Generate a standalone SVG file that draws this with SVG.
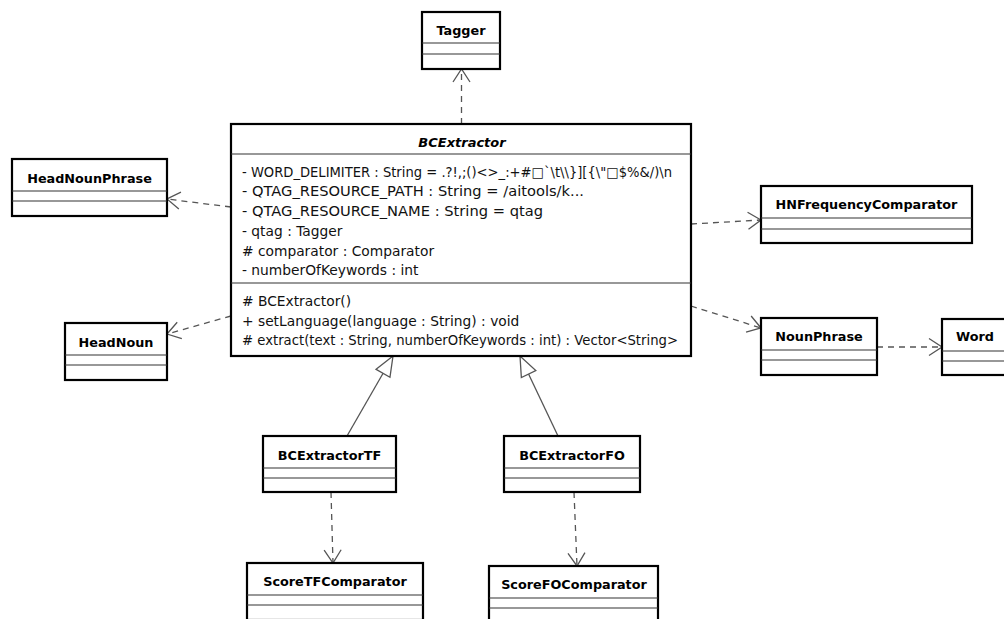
<svg xmlns="http://www.w3.org/2000/svg" width="1004" height="619" viewBox="0 0 1004 619">
  <style>
    .box { fill: #ffffff; stroke: #000000; stroke-width: 2.2; }
    .div { stroke: #333333; stroke-width: 1.2; fill: none; }
    .title { font-family: "DejaVu Sans", Verdana, sans-serif; font-weight: bold; font-size: 12.8px; fill: #000; text-anchor: middle; }
    .abstract { font-family: "DejaVu Sans", Verdana, sans-serif; font-weight: bold; font-style: italic; font-size: 13px; fill: #000; text-anchor: middle; }
    .member { font-family: "DejaVu Sans", Verdana, sans-serif; font-size: 13.8px; fill: #111; }
    .dep { fill: none; stroke: #555555; stroke-width: 1.3; stroke-dasharray: 6 5; }
    .gen { fill: none; stroke: #555555; stroke-width: 1.3; }
  </style>
  <defs>
    <marker id="open" markerUnits="userSpaceOnUse" markerWidth="20" markerHeight="20" viewBox="-16 -10 18 20" refX="0" refY="0" orient="auto" overflow="visible">
      <path d="M -13,-8.5 L 0,0 L -13,8.5" fill="none" stroke="#555555" stroke-width="1.3"/>
    </marker>
    <marker id="hollow" markerUnits="userSpaceOnUse" markerWidth="24" markerHeight="20" viewBox="-22 -10 24 20" refX="0" refY="0" orient="auto" overflow="visible">
      <path d="M -20,-8 L 0,0 L -20,8 Z" fill="#ffffff" stroke="#555555" stroke-width="1.3"/>
    </marker>
  </defs>

  <!-- connectors -->
  <g id="connectors">
    <line class="dep" x1="461.5" y1="124" x2="461.5" y2="69" marker-end="url(#open)"/>
    <line class="dep" x1="231" y1="207" x2="167" y2="199" marker-end="url(#open)"/>
    <line class="dep" x1="231" y1="316" x2="167" y2="334" marker-end="url(#open)"/>
    <line class="dep" x1="691" y1="224" x2="761" y2="220" marker-end="url(#open)"/>
    <line class="dep" x1="691" y1="306" x2="761" y2="328" marker-end="url(#open)"/>
    <line class="dep" x1="877" y1="347" x2="942" y2="347" marker-end="url(#open)"/>
    <line class="gen" x1="347" y1="436" x2="393" y2="356" marker-end="url(#hollow)"/>
    <line class="gen" x1="558" y1="436" x2="520" y2="356" marker-end="url(#hollow)"/>
    <line class="dep" x1="331" y1="492" x2="333" y2="563" marker-end="url(#open)"/>
    <line class="dep" x1="574" y1="492" x2="577" y2="566" marker-end="url(#open)"/>
  </g>

  <!-- abstract base class -->
  <g id="BCExtractor">
    <rect class="box" x="231" y="124" width="460" height="232"/>
    <line class="div" x1="231" y1="154" x2="691" y2="154"/>
    <line class="div" x1="231" y1="283" x2="691" y2="283"/>
    <text class="abstract" x="462" y="146.5">BCExtractor</text>
    <text class="member" x="242" y="176.7" textLength="430" lengthAdjust="spacingAndGlyphs">- WORD_DELIMITER : String = .?!,;()&lt;&gt;_:+#□`\t\\}][{\"□$%&amp;/)\n</text>
    <text class="member" x="242" y="196.4" textLength="342" lengthAdjust="spacingAndGlyphs">- QTAG_RESOURCE_PATH : String = /aitools/k...</text>
    <text class="member" x="242" y="216" textLength="301" lengthAdjust="spacingAndGlyphs">- QTAG_RESOURCE_NAME : String = qtag</text>
    <text class="member" x="242" y="235.8">- qtag : Tagger</text>
    <text class="member" x="242" y="255.5"># comparator : Comparator</text>
    <text class="member" x="242" y="275.2">- numberOfKeywords : int</text>
    <text class="member" x="242" y="306">#  BCExtractor()</text>
    <text class="member" x="242" y="325.7">+ setLanguage(language : String) : void</text>
    <text class="member" x="242" y="345.4" textLength="436" lengthAdjust="spacingAndGlyphs"># extract(text : String, numberOfKeywords : int) : Vector&lt;String&gt;</text>
  </g>

  <g id="Tagger">
    <rect class="box" x="422" y="12" width="78" height="57"/>
    <line class="div" x1="422" y1="43" x2="500" y2="43"/>
    <line class="div" x1="422" y1="54" x2="500" y2="54"/>
    <text class="title" x="461" y="35">Tagger</text>
  </g>

  <g id="HeadNounPhrase">
    <rect class="box" x="12" y="159" width="155" height="57"/>
    <line class="div" x1="12" y1="191" x2="167" y2="191"/>
    <line class="div" x1="12" y1="201" x2="167" y2="201"/>
    <text class="title" x="89.5" y="182.5">HeadNounPhrase</text>
  </g>

  <g id="HeadNoun">
    <rect class="box" x="65" y="323" width="102" height="57"/>
    <line class="div" x1="65" y1="355" x2="167" y2="355"/>
    <line class="div" x1="65" y1="365" x2="167" y2="365"/>
    <text class="title" x="116" y="346.5">HeadNoun</text>
  </g>

  <g id="HNFrequencyComparator">
    <rect class="box" x="761" y="186" width="211" height="57"/>
    <line class="div" x1="761" y1="218" x2="972" y2="218"/>
    <line class="div" x1="761" y1="229" x2="972" y2="229"/>
    <text class="title" x="866.5" y="209.3">HNFrequencyComparator</text>
  </g>

  <g id="NounPhrase">
    <rect class="box" x="761" y="318" width="116" height="57"/>
    <line class="div" x1="761" y1="350" x2="877" y2="350"/>
    <line class="div" x1="761" y1="360" x2="877" y2="360"/>
    <text class="title" x="819" y="341.3">NounPhrase</text>
  </g>

  <g id="Word">
    <rect class="box" x="942" y="319" width="70" height="56"/>
    <line class="div" x1="942" y1="351" x2="1012" y2="351"/>
    <line class="div" x1="942" y1="361" x2="1012" y2="361"/>
    <text class="title" x="975" y="341.3">Word</text>
  </g>

  <g id="BCExtractorTF">
    <rect class="box" x="263" y="436" width="133" height="56"/>
    <line class="div" x1="263" y1="468" x2="396" y2="468"/>
    <line class="div" x1="263" y1="478" x2="396" y2="478"/>
    <text class="title" x="329.5" y="459.5">BCExtractorTF</text>
  </g>

  <g id="BCExtractorFO">
    <rect class="box" x="504" y="436" width="136" height="56"/>
    <line class="div" x1="504" y1="468" x2="640" y2="468"/>
    <line class="div" x1="504" y1="478" x2="640" y2="478"/>
    <text class="title" x="572" y="459.5">BCExtractorFO</text>
  </g>

  <g id="ScoreTFComparator">
    <rect class="box" x="247" y="563" width="176" height="57"/>
    <line class="div" x1="247" y1="595" x2="423" y2="595"/>
    <line class="div" x1="247" y1="605" x2="423" y2="605"/>
    <text class="title" x="335" y="586">ScoreTFComparator</text>
  </g>

  <g id="ScoreFOComparator">
    <rect class="box" x="489" y="566" width="169" height="57"/>
    <line class="div" x1="489" y1="598" x2="658" y2="598"/>
    <line class="div" x1="489" y1="608" x2="658" y2="608"/>
    <text class="title" x="574" y="589">ScoreFOComparator</text>
  </g>
</svg>
